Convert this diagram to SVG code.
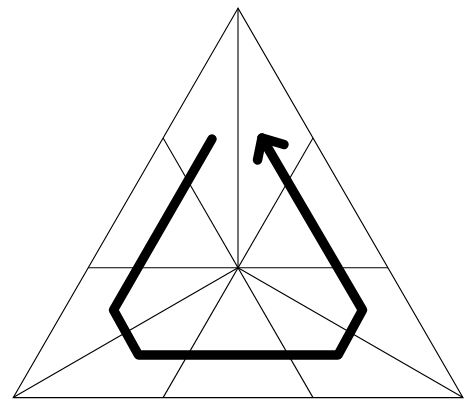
<svg xmlns="http://www.w3.org/2000/svg" width="472" height="406" viewBox="0 0 472 406">
<style>
.thin{stroke:#000;stroke-width:1.1;fill:none}
.thick{stroke:#000;stroke-width:9.5;fill:none;stroke-linecap:round;stroke-linejoin:round}
</style>
<rect width="472" height="406" fill="#fff"/>
<g id="grid">
<polygon class="thin" points="238,8.2 13.2,397.6 463,397.6"/>
<line class="thin" x1="238" y1="8.2" x2="238" y2="267.8"/>
<line class="thin" x1="88.1" y1="267.8" x2="388" y2="267.8"/>
<line class="thin" x1="163.1" y1="138" x2="313" y2="397.6"/>
<line class="thin" x1="313" y1="138" x2="163.1" y2="397.6"/>
<line class="thin" x1="13.2" y1="397.6" x2="238" y2="267.8"/>
<line class="thin" x1="463" y1="397.6" x2="238" y2="267.8"/>
</g>
<g id="connectors">
<polyline class="thick" points="212,139 113.5,310 138.5,355 338,355 362.5,310 262,138"/>
<polyline class="thick" points="257.5,160 262,138 284,144.5"/>
</g>
</svg>
